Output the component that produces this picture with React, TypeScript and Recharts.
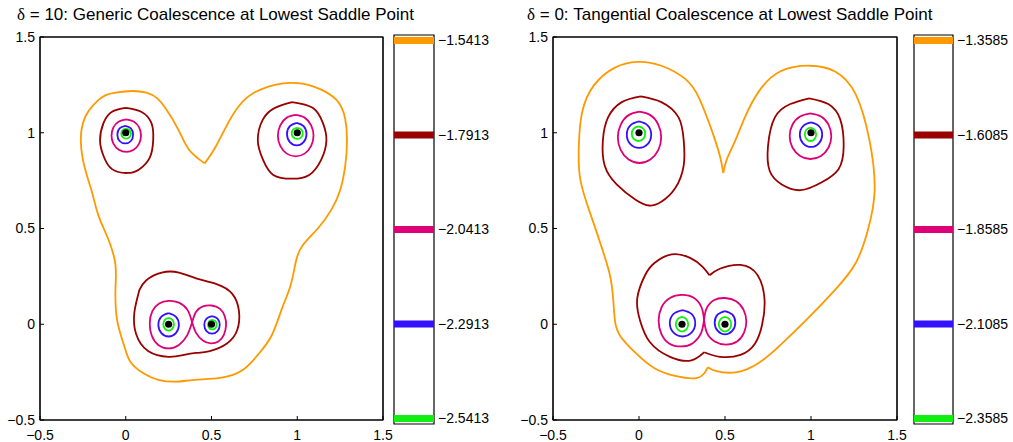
import { ScatterChart, Scatter, XAxis, YAxis, ComposedChart, ReferenceLine, ReferenceArea } from "recharts";

type Pt = { x: number; y: number };
const P = (arr: number[][]): Pt[] => arr.map(([x, y]) => ({ x, y }));

const FONT = '"Liberation Sans", Arial, Helvetica, sans-serif';
const axisTicks = [-0.5, 0, 0.5, 1, 1.5];

// contour levels shown in the two colorbars
const leftLevels = [-1.5413, -1.7913, -2.0413, -2.2913, -2.5413];
const rightLevels = [-1.3585, -1.6085, -1.8585, -2.1085, -2.3585];
const levelColors = ["#ff9900", "#990000", "#dd0077", "#3311ff", "#11ee11"];

// critical points (black dots)
const wells = P([[0, 1], [1, 1], [0.25, 0], [0.5, 0]]);

// ---------- delta = 10 (left) ----------
const lOrange = P([
  [0.46, 0.84], [0.52, 0.92], [0.59, 1.04], [0.66, 1.14], [0.75, 1.21], [0.87, 1.25], [0.97, 1.26],
  [1.1, 1.24], [1.23, 1.17], [1.28, 1.07], [1.29, 0.96], [1.28, 0.83], [1.25, 0.7], [1.2, 0.6],
  [1.12, 0.5], [1.03, 0.41], [0.99, 0.32], [0.96, 0.2], [0.91, 0.08], [0.85, -0.06], [0.77, -0.16],
  [0.68, -0.24], [0.55, -0.28], [0.4, -0.29], [0.29, -0.3], [0.19, -0.29], [0.11, -0.26], [0.03, -0.2],
  [-0.01, -0.11], [-0.05, 0.02], [-0.06, 0.18], [-0.06, 0.31], [-0.1, 0.44], [-0.16, 0.57], [-0.2, 0.7],
  [-0.25, 0.86], [-0.25, 1.05], [-0.16, 1.17], [-0.06, 1.21], [0.12, 1.21], [0.23, 1.13], [0.31, 1.01],
  [0.37, 0.91], [0.46, 0.84],
]);
const lRedA = P([
  [0, 1.13], [0.09, 1.11], [0.15, 1.05], [0.16, 0.96], [0.14, 0.87], [0.08, 0.81], [0.01, 0.79],
  [-0.08, 0.81], [-0.13, 0.88], [-0.15, 0.96], [-0.13, 1.05], [-0.08, 1.11], [0, 1.13],
]);
const lRedB = P([
  [0.97, 1.16], [1.09, 1.13], [1.15, 1.05], [1.17, 0.96], [1.14, 0.86], [1.07, 0.78], [0.97, 0.76],
  [0.86, 0.78], [0.8, 0.86], [0.77, 0.96], [0.8, 1.07], [0.87, 1.13], [0.97, 1.16],
]);
const lRedC = P([
  [0.08, 0.18], [0.12, 0.23], [0.21, 0.27], [0.31, 0.27], [0.41, 0.24], [0.53, 0.21], [0.62, 0.16],
  [0.66, 0.07], [0.65, -0.03], [0.59, -0.1], [0.49, -0.14], [0.41, -0.15], [0.34, -0.16], [0.25, -0.17],
  [0.13, -0.14], [0.06, -0.05], [0.05, 0.06], [0.08, 0.18],
]);
const lMagA = P([
  [0.003, 1.07], [0.046, 1.059], [0.078, 1.028], [0.089, 0.985], [0.078, 0.943], [0.046, 0.911],
  [0.003, 0.9], [-0.04, 0.911], [-0.072, 0.943], [-0.083, 0.985], [-0.072, 1.028], [-0.04, 1.059], [0.003, 1.07],
]);
const lMagB = P([
  [0.991, 1.093], [1.043, 1.079], [1.081, 1.039], [1.095, 0.985], [1.081, 0.931], [1.043, 0.891],
  [0.991, 0.877], [0.939, 0.891], [0.901, 0.931], [0.887, 0.985], [0.901, 1.039], [0.939, 1.079], [0.991, 1.093],
]);
const lMagC = P([
  [0.387, 0.01], [0.36, 0.075], [0.31, 0.113], [0.25, 0.122], [0.195, 0.108], [0.155, 0.068], [0.14, 0.005],
  [0.152, -0.06], [0.19, -0.108], [0.25, -0.126], [0.31, -0.108], [0.358, -0.058], [0.387, 0.01],
]);
const lMagD = P([
  [0.387, 0.01], [0.41, 0.065], [0.45, 0.093], [0.5, 0.098], [0.55, 0.08], [0.578, 0.04], [0.585, -0.005],
  [0.572, -0.055], [0.54, -0.09], [0.495, -0.1], [0.45, -0.085], [0.41, -0.045], [0.387, 0.01],
]);
const lBlueA = P([[-0.003, 1.036], [0.03, 1.023], [0.043, 0.99], [0.03, 0.957], [-0.003, 0.944], [-0.036, 0.957], [-0.049, 0.99], [-0.036, 1.023], [-0.003, 1.036]]);
const lBlueB = P([[0.997, 1.052], [1.037, 1.035], [1.054, 0.993], [1.037, 0.951], [0.997, 0.934], [0.957, 0.951], [0.94, 0.993], [0.957, 1.035], [0.997, 1.052]]);
const lBlueC = P([[0.25, 0.058], [0.292, 0.04], [0.31, -0.003], [0.292, -0.046], [0.25, -0.064], [0.208, -0.046], [0.19, -0.003], [0.208, 0.04], [0.25, 0.058]]);
const lBlueD = P([[0.503, 0.043], [0.535, 0.03], [0.548, -0.003], [0.535, -0.036], [0.503, -0.049], [0.471, -0.036], [0.458, -0.003], [0.471, 0.03], [0.503, 0.043]]);
const lGreenA = P([[0.002, 1.021], [0.022, 1.013], [0.03, 0.995], [0.022, 0.977], [0.002, 0.969], [-0.018, 0.977], [-0.026, 0.995], [-0.018, 1.013], [0.002, 1.021]]);
const lGreenB = P([[1.0, 1.026], [1.023, 1.018], [1.032, 0.997], [1.023, 0.976], [1.0, 0.968], [0.977, 0.976], [0.968, 0.997], [0.977, 1.018], [1.0, 1.026]]);
const lGreenC = P([[0.25, 0.033], [0.272, 0.023], [0.281, 0], [0.272, -0.023], [0.25, -0.033], [0.228, -0.023], [0.219, 0], [0.228, 0.023], [0.25, 0.033]]);
const lGreenD = P([[0.505, 0.023], [0.523, 0.016], [0.53, -0.002], [0.523, -0.02], [0.505, -0.027], [0.487, -0.02], [0.48, -0.002], [0.487, 0.016], [0.505, 0.023]]);

// ---------- delta = 0 (right) ----------
const rOrangeA = P([
  [0.49, 0.79], [0.51, 0.86], [0.56, 0.96], [0.62, 1.09], [0.7, 1.22], [0.82, 1.32], [0.99, 1.35],
  [1.14, 1.32], [1.26, 1.2], [1.34, 0.96], [1.37, 0.7], [1.33, 0.49], [1.26, 0.32], [1.14, 0.18],
  [0.97, 0.02], [0.82, -0.11], [0.7, -0.2], [0.57, -0.25], [0.45, -0.245], [0.4, -0.225],
]);
const rOrangeB = P([
  [0.4, -0.225], [0.34, -0.28], [0.21, -0.27], [0.09, -0.23], [-0.02, -0.15], [-0.11, -0.06], [-0.14, 0.02],
  [-0.15, 0.13], [-0.17, 0.26], [-0.22, 0.41], [-0.28, 0.57], [-0.34, 0.75], [-0.35, 0.93], [-0.33, 1.11],
  [-0.26, 1.25], [-0.14, 1.34], [-0.01, 1.37], [0.13, 1.35], [0.27, 1.28], [0.35, 1.18], [0.42, 1.02],
  [0.47, 0.88], [0.49, 0.79],
]);
const rRedA = P([
  [0.01, 1.19], [0.13, 1.16], [0.23, 1.08], [0.26, 0.96], [0.26, 0.83], [0.21, 0.71], [0.13, 0.64],
  [0.06, 0.62], [-0.02, 0.65], [-0.13, 0.73], [-0.2, 0.83], [-0.21, 0.96], [-0.18, 1.08], [-0.1, 1.16], [0.01, 1.19],
]);
const rRedB = P([
  [0.99, 1.18], [1.1, 1.15], [1.17, 1.07], [1.19, 0.93], [1.16, 0.81], [1.06, 0.74], [0.94, 0.7],
  [0.83, 0.73], [0.76, 0.8], [0.75, 0.93], [0.79, 1.08], [0.88, 1.15], [0.99, 1.18],
]);
const rRedC = P([
  [0.41, 0.256], [0.47, 0.29], [0.59, 0.31], [0.69, 0.256], [0.73, 0.125], [0.715, -0.005], [0.675, -0.1],
  [0.59, -0.16], [0.47, -0.17], [0.38, -0.146],
]);
const rRedD = P([
  [0.38, -0.146], [0.3, -0.19], [0.18, -0.17], [0.064, -0.094], [0.006, 0.02], [-0.01, 0.136], [0.035, 0.256],
  [0.09, 0.32], [0.19, 0.365], [0.3, 0.345], [0.37, 0.3], [0.41, 0.256],
]);
const rMagA = P([
  [0.003, 1.11], [0.066, 1.092], [0.112, 1.043], [0.129, 0.976], [0.112, 0.909], [0.066, 0.86],
  [0.003, 0.842], [-0.06, 0.86], [-0.106, 0.909], [-0.123, 0.976], [-0.106, 1.043], [-0.06, 1.092], [0.003, 1.11],
]);
const rMagB = P([
  [0.997, 1.101], [1.058, 1.085], [1.102, 1.042], [1.118, 0.982], [1.102, 0.923], [1.058, 0.879],
  [0.997, 0.863], [0.937, 0.879], [0.892, 0.923], [0.876, 0.982], [0.892, 1.042], [0.937, 1.085], [0.997, 1.101],
]);
const rMagC = P([
  [0.378, 0.021], [0.365, 0.085], [0.32, 0.137], [0.25, 0.153], [0.18, 0.137], [0.132, 0.09], [0.114, 0.02],
  [0.13, -0.05], [0.175, -0.1], [0.245, -0.116], [0.31, -0.1], [0.36, -0.048], [0.378, 0.021],
]);
const rMagD = P([
  [0.378, 0.021], [0.392, 0.08], [0.435, 0.125], [0.5, 0.137], [0.565, 0.12], [0.608, 0.075], [0.624, 0.015],
  [0.61, -0.045], [0.57, -0.09], [0.505, -0.106], [0.44, -0.09], [0.395, -0.045], [0.378, 0.021],
]);
const rBlueA = P([[0, 1.059], [0.05, 1.039], [0.071, 0.99], [0.05, 0.941], [0, 0.921], [-0.05, 0.941], [-0.071, 0.99], [-0.05, 1.039], [0, 1.059]]);
const rBlueB = P([[1, 1.054], [1.046, 1.035], [1.065, 0.99], [1.046, 0.945], [1, 0.926], [0.954, 0.945], [0.935, 0.99], [0.954, 1.035], [1, 1.054]]);
const rBlueC = P([[0.253, 0.074], [0.305, 0.054], [0.327, 0.005], [0.305, -0.044], [0.253, -0.064], [0.201, -0.044], [0.179, 0.005], [0.201, 0.054], [0.253, 0.074]]);
const rBlueD = P([[0.5, 0.069], [0.542, 0.051], [0.56, 0.008], [0.542, -0.035], [0.5, -0.053], [0.458, -0.035], [0.44, 0.008], [0.458, 0.051], [0.5, 0.069]]);
const rGreenA = P([[-0.003, 1.033], [0.025, 1.022], [0.036, 0.995], [0.025, 0.968], [-0.003, 0.957], [-0.031, 0.968], [-0.042, 0.995], [-0.031, 1.022], [-0.003, 1.033]]);
const rGreenB = P([[0.997, 1.027], [1.02, 1.017], [1.03, 0.992], [1.02, 0.967], [0.997, 0.957], [0.974, 0.967], [0.964, 0.992], [0.974, 1.017], [0.997, 1.027]]);
const rGreenC = P([[0.25, 0.038], [0.275, 0.027], [0.286, 0], [0.275, -0.027], [0.25, -0.038], [0.225, -0.027], [0.214, 0], [0.225, 0.027], [0.25, 0.038]]);
const rGreenD = P([[0.5, 0.038], [0.525, 0.027], [0.536, 0], [0.525, -0.027], [0.5, -0.038], [0.475, -0.027], [0.464, 0], [0.475, 0.027], [0.5, 0.038]]);

// level index -> curves
const leftCurves: [number, Pt[]][] = [
  [0, lOrange],
  [1, lRedA], [1, lRedB], [1, lRedC],
  [2, lMagA], [2, lMagB], [2, lMagC], [2, lMagD],
  [3, lBlueA], [3, lBlueB], [3, lBlueC], [3, lBlueD],
  [4, lGreenA], [4, lGreenB], [4, lGreenC], [4, lGreenD],
];
const rightCurves: [number, Pt[]][] = [
  [0, rOrangeA], [0, rOrangeB],
  [1, rRedA], [1, rRedB], [1, rRedC], [1, rRedD],
  [2, rMagA], [2, rMagB], [2, rMagC], [2, rMagD],
  [3, rBlueA], [3, rBlueB], [3, rBlueC], [3, rBlueD],
  [4, rGreenA], [4, rGreenB], [4, rGreenC], [4, rGreenD],
];

const fmtAxis = (v: number) => (v < 0 ? "\u2212" + String(-v) : String(v));
const fmtLevel = (v: number) => "\u2212" + Math.abs(v).toFixed(4);
const tickStyle = { fontSize: 14, fill: "#000", fontFamily: FONT };
const noDot = () => <g />;
const blackDot = (p: any) => <circle cx={p.cx} cy={p.cy} r={3.6} fill="#000" />;

function ContourPlot({ curves, left, ml, mr }: { curves: [number, Pt[]][]; left: number; ml: number; mr: number }) {
  return (
    <div style={{ position: "absolute", left, top: 0 }}>
      <ScatterChart width={400} height={442} margin={{ top: 36, right: mr - 1, bottom: 0, left: ml }}>
        <XAxis type="number" dataKey="x" domain={[-0.5, 1.5]} ticks={axisTicks} allowDataOverflow
          tickFormatter={fmtAxis} height={22} tickSize={-4} tickMargin={14} stroke="#000" tick={tickStyle} />
        <XAxis xAxisId="top" orientation="top" type="number" dataKey="x" domain={[-0.5, 1.5]} ticks={axisTicks}
          allowDataOverflow height={1} tickSize={-4} tick={false} stroke="#000" />
        <YAxis type="number" dataKey="y" domain={[-0.5, 1.5]} ticks={axisTicks} allowDataOverflow
          tickFormatter={fmtAxis} width={40} tickSize={-4} tickMargin={9} stroke="#000" tick={tickStyle} />
        <YAxis yAxisId="right" orientation="right" type="number" dataKey="y" domain={[-0.5, 1.5]} ticks={axisTicks}
          allowDataOverflow width={1} tickSize={-4} tick={false} stroke="#000" />
        <ReferenceArea x1={-0.5} x2={1.5} y1={-0.5} y2={1.5} fill="#fff" fillOpacity={0} stroke="#000" strokeWidth={1.2} />
        {curves.map(([lvl, pts], i) => (
          <Scatter key={i} data={pts} fill={levelColors[lvl]} shape={noDot} lineJointType="natural"
            line={{ stroke: levelColors[lvl], strokeWidth: 1.8 }} isAnimationActive={false} />
        ))}
        <Scatter data={wells} fill="#000" shape={blackDot} isAnimationActive={false} />
        <Scatter data={wells} xAxisId="top" yAxisId="right" shape={noDot} isAnimationActive={false} />
      </ScatterChart>
    </div>
  );
}

function ColorBar({ levels, left, w }: { levels: number[]; left: number; w: number }) {
  const pad = 0.0146;
  const lo = levels[levels.length - 1] - pad;
  const hi = levels[0] + pad;
  return (
    <div style={{ position: "absolute", left, top: 0 }}>
      <ComposedChart width={14 + w + 66} height={442} data={[{ x: 0 }, { x: 1 }]}
        margin={{ top: 35, right: 0, bottom: 18, left: 14 }}>
        <XAxis type="number" dataKey="x" domain={[0, 1]} hide />
        <YAxis orientation="right" type="number" domain={[lo, hi]} ticks={levels} allowDataOverflow
          tickFormatter={fmtLevel} width={66} tickSize={0} tickMargin={4} axisLine={false} tickLine={false} tick={tickStyle} />
        <ReferenceArea y1={lo} y2={hi} fill="#fff" fillOpacity={0} stroke="#000" strokeWidth={1.2} />
        {levels.map((lv, i) => (
          <ReferenceLine key={i} y={lv} stroke={levelColors[i]} strokeWidth={7} />
        ))}
      </ComposedChart>
    </div>
  );
}

function Title({ left, text }: { left: number; text: string }) {
  return (
    <div style={{ position: "absolute", left, top: 6, fontSize: 17, lineHeight: "17px", fontFamily: FONT, whiteSpace: "nowrap", color: "#000" }}>
      <span style={{ fontFamily: '"Liberation Serif", "DejaVu Serif", serif' }}>δ</span>
      {text}
    </div>
  );
}

export default function App() {
  return (
    <div style={{ position: "absolute", left: 0, top: 0, width: 1013, height: 442, background: "#fff" }}>
      <Title left={17} text=" = 10: Generic Coalescence at Lowest Saddle Point" />
      <Title left={527} text=" = 0: Tangential Coalescence at Lowest Saddle Point" />
      <ContourPlot curves={leftCurves} left={0} ml={0} mr={17} />
      <ContourPlot curves={rightCurves} left={510} ml={3} mr={13} />
      <ColorBar levels={leftLevels} left={380} w={40} />
      <ColorBar levels={rightLevels} left={900} w={39} />
    </div>
  );
}
